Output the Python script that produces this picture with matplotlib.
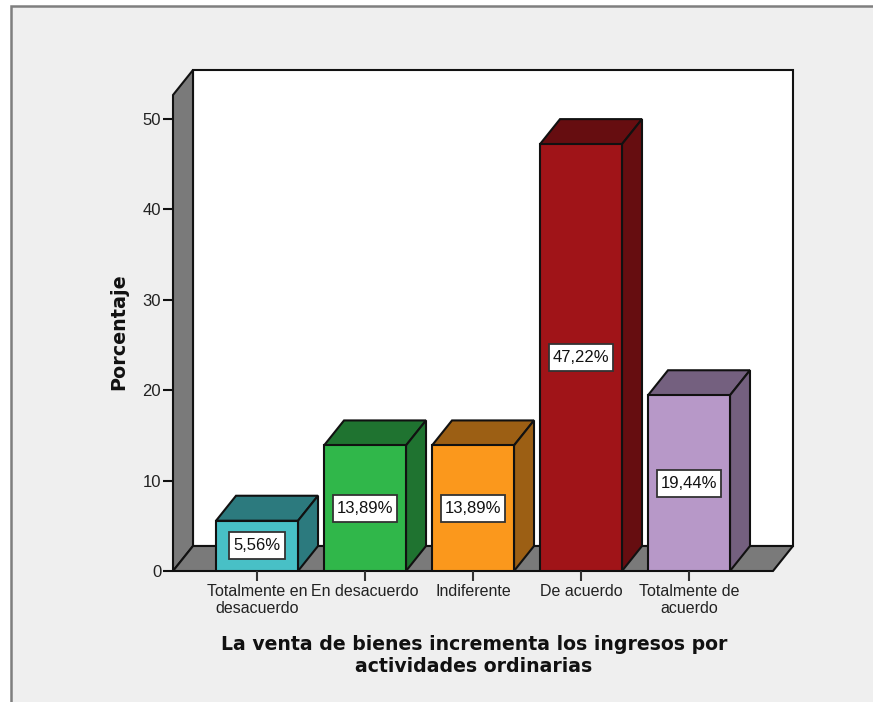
import numpy as np
import matplotlib
matplotlib.use("Agg")
import matplotlib.pyplot as plt
from matplotlib.patches import Polygon, Rectangle

categories = ["Totalmente en\ndesacuerdo", "En desacuerdo", "Indiferente", "De acuerdo", "Totalmente de\nacuerdo"]
values = [5.56, 13.89, 13.89, 47.22, 19.44]
value_labels = ["5,56%", "13,89%", "13,89%", "47,22%", "19,44%"]
y_ticks = [0, 10, 20, 30, 40, 50]
front_colors = ["#48C0C6", "#30B74A", "#FB981C", "#A01418", "#B798C8"]
side_colors = ["#2C7A7E", "#1F7330", "#9C5F14", "#660D10", "#74607F"]

W, H = 873, 702
fig = plt.figure(figsize=(W / 100, H / 100), dpi=100, facecolor="white")
plt.rcParams["font.family"] = "Liberation Sans"

# grey panel with its border, runs off the right and bottom of the image
fig.add_artist(Rectangle((11 / W, -0.01), 1, 1 - 6 / H + 0.01, transform=fig.transFigure,
                         facecolor="#EFEFEF", edgecolor="#7F7F7F", linewidth=1.8, zorder=-1))

ax = fig.add_axes([173 / W, 1 - 571 / H, 620 / W, 501 / H])
ax.patch.set_visible(False)
ax.set_xlim(-0.778, 4.963)
ax.set_ylim(0, 55.42)

# depth of the fake 3d, in data units
dx = 20 / 108
dy = 25 / 9.04
x0, x1 = ax.get_xlim()
y1 = ax.get_ylim()[1]
wall = "#7A7A7A"
edge = "#111111"
lw = 1.5

ax.add_patch(Rectangle((x0 + dx, dy), x1 - x0 - dx, y1 - dy, fc="white", ec=edge, lw=lw, clip_on=False, zorder=1))
ax.add_patch(Polygon([(x0, 0), (x0 + dx, dy), (x0 + dx, y1), (x0, y1 - dy)],
                     fc=wall, ec=edge, lw=lw, clip_on=False, zorder=1.1))
ax.add_patch(Polygon([(x0, 0), (x0 + dx, dy), (x1, dy), (x1 - dx, 0)],
                     fc=wall, ec=edge, lw=lw, clip_on=False, zorder=1.1))

x = np.arange(len(values))
bar_w = 82 / 108
ax.bar(x, values, width=bar_w, color=front_colors, edgecolor=edge, linewidth=lw, zorder=3)
for xi, v, side in zip(x, values, side_colors):
    left, right = xi - bar_w / 2, xi + bar_w / 2
    ax.add_patch(Polygon([(left, v), (left + dx, v + dy), (right + dx, v + dy), (right, v)],
                         fc=side, ec=edge, lw=lw, zorder=2.5))
    ax.add_patch(Polygon([(right, 0), (right + dx, dy), (right + dx, v + dy), (right, v)],
                         fc=side, ec=edge, lw=lw, zorder=2.5))

# label boxes are wider than tall padding allows, so size them from the text
renderer = fig.canvas.get_renderer()
for xi, v, lab in zip(x, values, value_labels):
    t = ax.text(xi, v / 2, lab, ha="center", va="center", fontsize=12, color="#111111", zorder=5)
    box_w = (t.get_window_extent(renderer).width + 8) / 108
    box_h = 27 / 9.04
    ax.add_patch(Rectangle((xi - box_w / 2, v / 2 - box_h / 2), box_w, box_h,
                           fc="white", ec="#333333", lw=1.3, zorder=4))

for s in ax.spines.values():
    s.set_visible(False)

ax.set_yticks(y_ticks)
ax.set_xticks(x)
ax.set_xticklabels(categories, linespacing=1.15)
ax.tick_params(axis="y", length=7.5, width=1.5, color=edge, labelsize=12, labelcolor="#222222", pad=1)
ax.tick_params(axis="x", length=7.5, width=1.5, color="#333333", labelsize=11.5, labelcolor="#222222", pad=2)

fig.text(119 / W, 1 - 332 / H, "Porcentaje", rotation=90, ha="center", va="center",
         fontsize=13.8, fontweight="bold", family="DejaVu Sans", color="#111111")
fig.text(474 / W, 1 - 655 / H, "La venta de bienes incrementa los ingresos por\nactividades ordinarias",
         ha="center", va="center", fontsize=13.6, fontweight="bold", family="DejaVu Sans",
         color="#111111", linespacing=1.2)

fig.savefig("out.png", dpi=100, facecolor=fig.get_facecolor())
